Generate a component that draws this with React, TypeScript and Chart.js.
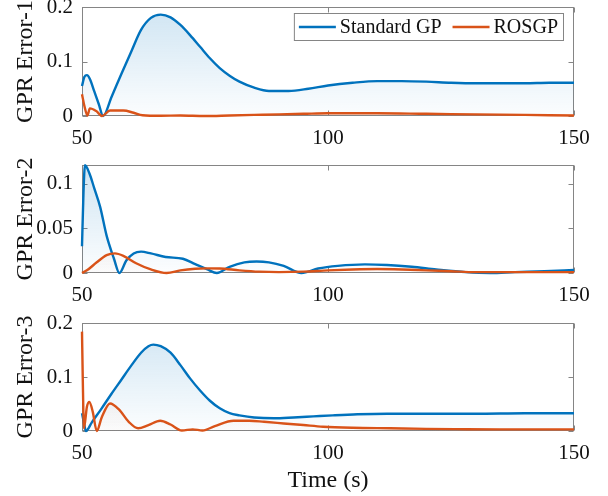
import React, { useEffect, useRef } from "react";
import { Chart, registerables } from "chart.js";

Chart.register(...registerables);

// ---------------- data ----------------
const seriesNames = ["Standard GP", "ROSGP"];
const xTicks = [50, 100, 150];
const xMin = 50;
const xMax = 150;

// Panel 1
const yTitle1 = "GPR Error-1";
const yTicks1 = [0, 0.1, 0.2];
const yMax1 = 0.2;
const tGP1 = [50, 50.5, 51, 51.6, 52.5, 53.4, 54.3, 56, 58, 60, 62, 64, 66, 68, 70, 72, 74, 76, 78, 80, 82, 85, 88, 92, 96, 100, 105, 110, 115, 120, 125, 130, 135, 140, 145, 150];
const gp1 = [0.055, 0.072, 0.075, 0.068, 0.045, 0.022, 0.0, 0.035, 0.077, 0.118, 0.158, 0.18, 0.186, 0.181, 0.167, 0.148, 0.127, 0.106, 0.088, 0.074, 0.063, 0.052, 0.046, 0.046, 0.05, 0.056, 0.061, 0.064, 0.064, 0.063, 0.061, 0.06, 0.06, 0.06, 0.061, 0.061];
const tRO1 = [50, 50.5, 51.1, 51.6, 52.9, 54.1, 55.7, 58.4, 60.5, 62.3, 66, 70, 75, 80, 85, 90, 95, 100, 110, 120, 130, 140, 150];
const ro1 = [0.04, 0.018, 0.001, 0.014, 0.009, 0.0, 0.01, 0.01, 0.006, 0.0015, 0.0005, 0.001, 0.0, 0.001, 0.002, 0.003, 0.004, 0.005, 0.005, 0.004, 0.003, 0.002, 0.001];

// Panel 2
const yTitle2 = "GPR Error-2";
const yTicks2 = [0, 0.05, 0.1];
const yMax2 = 0.1213;
const tGP2 = [50, 50.3, 50.6, 51.5, 52.5, 53.7, 55, 56.5, 57.6, 59, 60.5, 62, 64, 67, 70.5, 73, 75.5, 77.4, 80, 83, 85.5, 88, 91, 94.6, 98, 102, 107.5, 112, 117, 122, 128, 133, 138, 144, 150];
const gp2 = [0.03, 0.09, 0.121, 0.112, 0.095, 0.074, 0.042, 0.016, 0.0, 0.014, 0.022, 0.024, 0.022, 0.018, 0.016, 0.01, 0.004, 0.0, 0.007, 0.012, 0.013, 0.012, 0.008, 0.0, 0.005, 0.008, 0.0097, 0.009, 0.007, 0.004, 0.001, 0.0, 0.001, 0.002, 0.0035];
const tRO2 = [50, 51, 53, 55, 56.7, 58.5, 61, 64, 67.2, 70, 73, 75.3, 78, 82, 86, 90, 95, 100, 105, 110, 115, 120, 125, 130, 140, 150];
const ro2 = [0.0, 0.003, 0.012, 0.02, 0.022, 0.019, 0.011, 0.004, 0.0, 0.003, 0.0048, 0.0052, 0.005, 0.003, 0.0015, 0.001, 0.0015, 0.003, 0.004, 0.0045, 0.004, 0.003, 0.002, 0.001, 0.001, 0.001];

// Panel 3
const yTitle3 = "GPR Error-3";
const yTicks3 = [0, 0.1, 0.2];
const yMax3 = 0.2;
const xTitle = "Time (s)";
const tGP3 = [50, 50.4, 50.8, 52, 54, 56, 58, 60, 62, 63.5, 64.5, 66, 68, 70, 72, 74, 76, 78, 80, 82, 85, 89, 93, 97, 101, 106, 112, 120, 130, 140, 150];
const gp3 = [0.033, 0.015, 0.0, 0.016, 0.042, 0.069, 0.095, 0.121, 0.145, 0.157, 0.16, 0.157, 0.145, 0.122, 0.097, 0.075, 0.056, 0.042, 0.033, 0.029, 0.025, 0.0235, 0.025, 0.027, 0.029, 0.031, 0.032, 0.032, 0.032, 0.033, 0.033];
const tRO3 = [50, 50.15, 50.4, 51, 51.5, 52.2, 53, 54, 55.7, 57.5, 59.5, 61.4, 63.5, 65.9, 68, 70.3, 72.5, 74.5, 77, 80.8, 84, 87, 91, 95, 99, 105, 112.6, 120, 126, 135, 150];
const ro3 = [0.184, 0.1, 0.005, 0.045, 0.054, 0.035, 0.0, 0.025, 0.051, 0.04, 0.017, 0.005, 0.011, 0.019, 0.012, 0.001, 0.003, 0.001, 0.009, 0.019, 0.019, 0.017, 0.014, 0.011, 0.008, 0.006, 0.005, 0.004, 0.0035, 0.003, 0.003];

// ---------------- style ----------------
const FONT = "'Liberation Serif', 'Times New Roman', Times, serif";
const BLUE = "#0072BD";
const ORANGE = "#D95319";
const AXIS = "#858585";
const TEXT = "#111111";

const toPts = (t: number[], v: number[]) => t.map((x, i) => ({ x, y: v[i] }));

const gradient = (rgb: string, a0: number, a1: number) => (ctx: any) => {
  const chart = ctx.chart;
  const area = chart.chartArea;
  if (!area) return `rgba(${rgb},${a1})`;
  const g = chart.ctx.createLinearGradient(0, area.top, 0, area.bottom);
  g.addColorStop(0, `rgba(${rgb},${a0})`);
  g.addColorStop(1, `rgba(${rgb},${a1})`);
  return g;
};

const boxPlugin = {
  id: "matlabBox",
  beforeDatasetsDraw(chart: any) {
    const { ctx, chartArea: a, scales } = chart;
    const L = Math.round(a.left) + 0.5;
    const R = Math.round(a.right) - 0.5;
    const T = Math.round(a.top) + 0.5;
    const B = Math.round(a.bottom) - 0.5;
    ctx.save();
    ctx.strokeStyle = AXIS;
    ctx.lineWidth = 1;
    ctx.strokeRect(L, T, R - L, B - T);
    const tl = 5;
    ctx.beginPath();
    scales.x.ticks.forEach((tk: any) => {
      const px = Math.round(scales.x.getPixelForValue(tk.value)) + 0.5;
      ctx.moveTo(px, B);
      ctx.lineTo(px, B - tl);
      ctx.moveTo(px, T);
      ctx.lineTo(px, T + tl);
    });
    scales.y.ticks.forEach((tk: any) => {
      const py = Math.round(scales.y.getPixelForValue(tk.value)) + 0.5;
      ctx.moveTo(L, py);
      ctx.lineTo(L + tl, py);
      ctx.moveTo(R, py);
      ctx.lineTo(R - tl, py);
    });
    ctx.stroke();
    ctx.restore();
  },
};

const legendPlugin = {
  id: "boxLegend",
  afterDraw(chart: any) {
    const { ctx, chartArea: a } = chart;
    ctx.save();
    ctx.font = `20px ${FONT}`;
    const items = [
      { label: seriesNames[0], color: BLUE },
      { label: seriesNames[1], color: ORANGE },
    ];
    const lineLen = 37, gap = 4, padL = 5, padR = 6, itemGap = 11, h = 28;
    const widths = items.map((it) => ctx.measureText(it.label).width);
    let total = padL + padR + itemGap * (items.length - 1);
    widths.forEach((w) => (total += lineLen + gap + w));
    const right = Math.round(a.right) - 10;
    const top = Math.round(a.top) + 6;
    const left = right - total;
    ctx.fillStyle = "#ffffff";
    ctx.fillRect(left, top, total, h);
    ctx.strokeStyle = AXIS;
    ctx.lineWidth = 1;
    ctx.strokeRect(left + 0.5, top + 0.5, total - 1, h - 1);
    let x = left + padL;
    const cy = top + h / 2;
    items.forEach((it, i) => {
      ctx.strokeStyle = it.color;
      ctx.lineWidth = 2.4;
      ctx.beginPath();
      ctx.moveTo(x, cy);
      ctx.lineTo(x + lineLen, cy);
      ctx.stroke();
      x += lineLen + gap;
      ctx.fillStyle = TEXT;
      ctx.textBaseline = "middle";
      ctx.textAlign = "left";
      ctx.fillText(it.label, x, cy + 1);
      x += widths[i] + itemGap;
    });
    ctx.restore();
  },
};

type PanelOpts = {
  tGP: number[];
  gp: number[];
  tRO: number[];
  ro: number[];
  yTicks: number[];
  yMax: number;
  yTitle: string;
  padTop: number;
  xAxisH: number;
  xTitle?: string;
  legend?: boolean;
};

function makeConfig(o: PanelOpts): any {
  return {
    type: "line",
    data: {
      datasets: [
        {
          label: seriesNames[0],
          data: toPts(o.tGP, o.gp),
          borderColor: BLUE,
          borderWidth: 2.4,
          pointRadius: 0,
          cubicInterpolationMode: "monotone",
          fill: "origin",
          backgroundColor: gradient("0,114,189", 0.19, 0.01),
          order: 2,
          clip: false,
        },
        {
          label: seriesNames[1],
          data: toPts(o.tRO, o.ro),
          borderColor: ORANGE,
          borderWidth: 2.4,
          pointRadius: 0,
          cubicInterpolationMode: "monotone",
          fill: "origin",
          backgroundColor: gradient("217,83,25", 0.15, 0.01),
          order: 1,
          clip: false,
        },
      ],
    },
    options: {
      responsive: false,
      animation: false,
      events: [],
      layout: { padding: { top: o.padTop, right: 34, left: 0, bottom: 0 } },
      plugins: { legend: { display: false }, tooltip: { enabled: false } },
      scales: {
        x: {
          type: "linear",
          min: xMin,
          max: xMax,
          grid: { display: false, drawTicks: false },
          border: { display: false },
          ticks: {
            font: { family: FONT, size: 21 },
            color: TEXT,
            padding: 10,
            maxRotation: 0,
            autoSkip: false,
            callback: (v: number) => String(v),
          },
          afterBuildTicks: (s: any) => {
            s.ticks = xTicks.map((v) => ({ value: v }));
          },
          afterFit: (s: any) => {
            s.height = o.xAxisH;
            s.paddingLeft = 0;
            s.paddingRight = 0;
          },
          title: o.xTitle
            ? {
                display: true,
                text: o.xTitle,
                font: { family: FONT, size: 24 },
                color: TEXT,
                padding: { top: 0, bottom: 1 },
              }
            : { display: false },
        },
        y: {
          type: "linear",
          min: 0,
          max: o.yMax,
          grid: { display: false, drawTicks: false },
          border: { display: false },
          ticks: {
            font: { family: FONT, size: 21 },
            color: TEXT,
            padding: 9,
            autoSkip: false,
            callback: (v: number) => String(v),
          },
          afterBuildTicks: (s: any) => {
            s.ticks = o.yTicks.map((v) => ({ value: v }));
          },
          afterFit: (s: any) => {
            s.width = 82;
            s.paddingTop = 0;
            s.paddingBottom = 0;
          },
          title: {
            display: true,
            text: o.yTitle,
            font: { family: FONT, size: 24 },
            color: TEXT,
            padding: { top: 11, bottom: 0 },
          },
        },
      },
    },
    plugins: o.legend ? [boxPlugin, legendPlugin] : [boxPlugin],
  };
}

export default function App() {
  const r1 = useRef<HTMLCanvasElement>(null);
  const r2 = useRef<HTMLCanvasElement>(null);
  const r3 = useRef<HTMLCanvasElement>(null);

  useEffect(() => {
    const charts: Chart[] = [];
    if (r1.current)
      charts.push(
        new Chart(
          r1.current,
          makeConfig({ tGP: tGP1, gp: gp1, tRO: tRO1, ro: ro1, yTicks: yTicks1, yMax: yMax1, yTitle: yTitle1, padTop: 7, xAxisH: 44, legend: true })
        )
      );
    if (r2.current)
      charts.push(
        new Chart(
          r2.current,
          makeConfig({ tGP: tGP2, gp: gp2, tRO: tRO2, ro: ro2, yTicks: yTicks2, yMax: yMax2, yTitle: yTitle2, padTop: 15, xAxisH: 37 })
        )
      );
    if (r3.current)
      charts.push(
        new Chart(
          r3.current,
          makeConfig({ tGP: tGP3, gp: gp3, tRO: tRO3, ro: ro3, yTicks: yTicks3, yMax: yMax3, yTitle: yTitle3, padTop: 23, xAxisH: 65, xTitle })
        )
      );
    return () => charts.forEach((c) => c.destroy());
  }, []);

  const cs: React.CSSProperties = { position: "absolute", left: 0, display: "block" };
  return (
    <div style={{ position: "fixed", left: 0, top: 0, width: 608, height: 496, background: "#ffffff", overflow: "hidden" }}>
      <canvas ref={r1} width={608} height={160} style={{ ...cs, top: 0, width: 608, height: 160 }} />
      <canvas ref={r2} width={608} height={160} style={{ ...cs, top: 150, width: 608, height: 160 }} />
      <canvas ref={r3} width={608} height={196} style={{ ...cs, top: 300, width: 608, height: 196 }} />
    </div>
  );
}
